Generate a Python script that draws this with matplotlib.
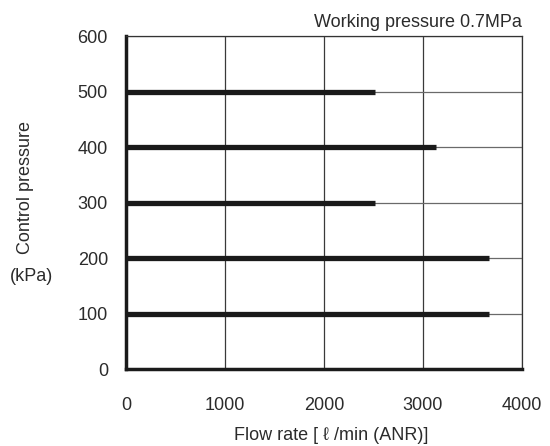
import matplotlib
matplotlib.use('Agg')
import matplotlib.pyplot as plt

plt.rcParams['font.family'] = ['Liberation Sans', 'DejaVu Sans']

# control pressure (kPa) and maximum flow rate (l/min ANR)
control_pressure = [100, 200, 300, 400, 500]
flow_rate = [3670, 3670, 2520, 3130, 2520]

text_color = '#2b2b2b'

fig = plt.figure(figsize=(5.5, 4.46), dpi=100)
ax = fig.add_axes([0.229, 0.1726, 0.72, 0.7464])

for p, q in zip(control_pressure, flow_rate):
    ax.plot([0, q], [p, p], color='#1a1a1a', lw=3.8, solid_capstyle='butt', zorder=3)

ax.set_xlim(0, 4000)
ax.set_ylim(0, 600)
ax.set_xticks([0, 1000, 2000, 3000, 4000])
ax.set_yticks([0, 100, 200, 300, 400, 500, 600])
ax.grid(True, axis='x', color='#3a3a3a', lw=0.9)
ax.grid(True, axis='y', color='#6a6a6a', lw=0.9)
ax.tick_params(length=0, labelsize=13, labelcolor=text_color)
ax.tick_params(axis='x', pad=20)
ax.tick_params(axis='y', pad=13)

for side in ['top', 'right']:
    ax.spines[side].set_linewidth(0.9)
    ax.spines[side].set_color('#333333')
for side in ['left', 'bottom']:
    ax.spines[side].set_linewidth(2.5)
    ax.spines[side].set_color('#1a1a1a')

fig.text(0.602, 0.0135, 'Flow rate [ \u2113 /min (ANR)]', fontsize=13, color=text_color,
         ha='center', va='baseline')
fig.text(0.0455, 0.5785, 'Control pressure', rotation=90, fontsize=13, color=text_color,
         ha='center', va='center')
fig.text(0.0564, 0.379, '(kPa)', fontsize=13, color=text_color, ha='center', va='center')
fig.text(0.949, 0.9395, 'Working pressure 0.7MPa', fontsize=13, color=text_color,
         ha='right', va='baseline')

fig.savefig('out.png', dpi=100)
